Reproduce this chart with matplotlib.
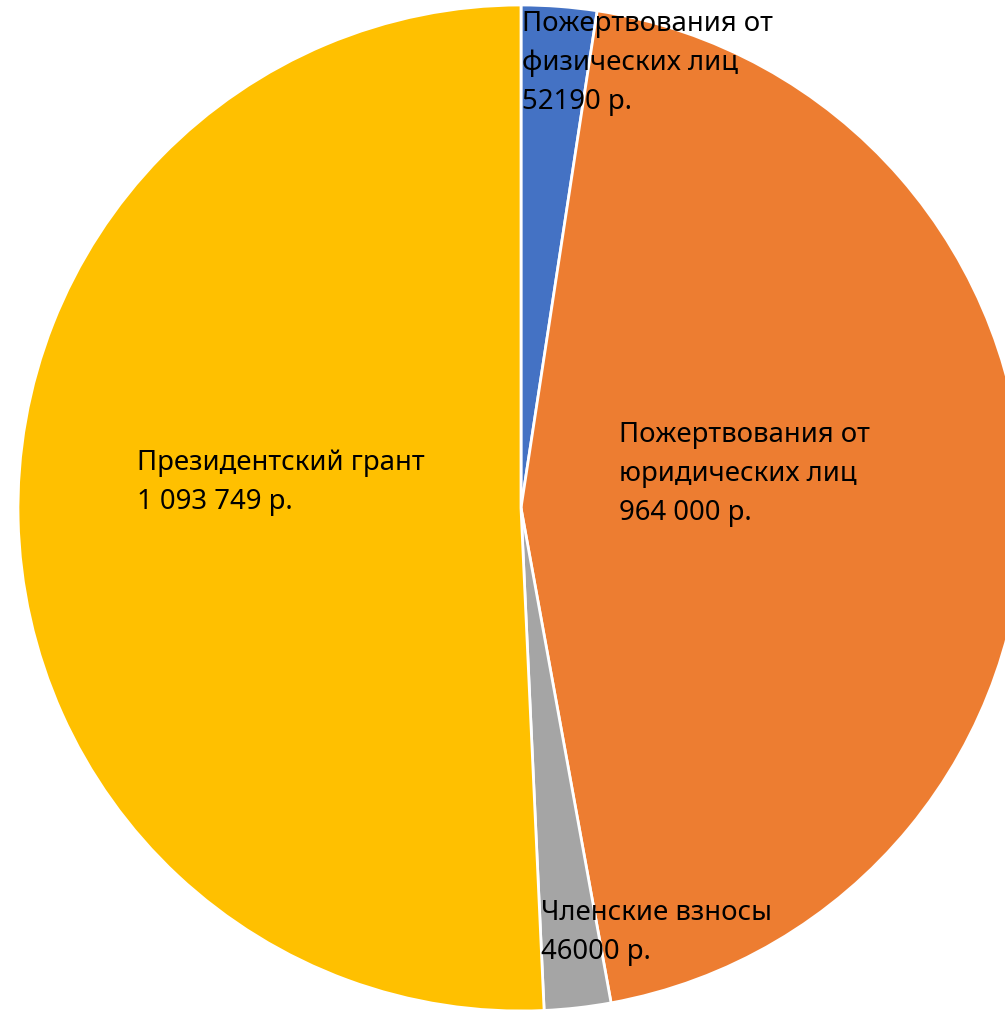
import matplotlib
matplotlib.use("Agg")
import matplotlib.pyplot as plt

labels = ["Пожертвования от\nфизических лиц\n52190 р.",
          "Пожертвования от\nюридических лиц\n964 000 р.",
          "Членские взносы\n46000 р.",
          "Президентский грант\n1 093 749 р."]
values = [52190, 964000, 46000, 1093749]
colors = ["#4472C4", "#ED7D31", "#A5A5A5", "#FFC000"]

# label anchor (left, top) in pixels of the original picture
label_px = [(522, 10), (619, 421), (541, 899), (137, 449)]

W, H = 1005, 1010
cx, cy, R = 521, 508, 503

fig = plt.figure(figsize=(W / 100, H / 100), dpi=100)
ax = fig.add_axes([0, 0, 1, 1])
ax.pie(values, colors=colors, startangle=90, counterclock=False, radius=1,
       wedgeprops=dict(edgecolor="white", linewidth=2))
ax.set_xlim(-cx / R, (W - cx) / R)
ax.set_ylim(-(H - cy) / R, cy / R)
ax.set_aspect("auto")
ax.axis("off")

for lab, (px, py) in zip(labels, label_px):
    ax.text((px - cx) / R, (cy - py) / R, lab, ha="left", va="top",
            fontsize=19.8, family=["Noto Sans", "DejaVu Sans"],
            linespacing=1.53, color="black")

fig.savefig("out.png", dpi=100)
